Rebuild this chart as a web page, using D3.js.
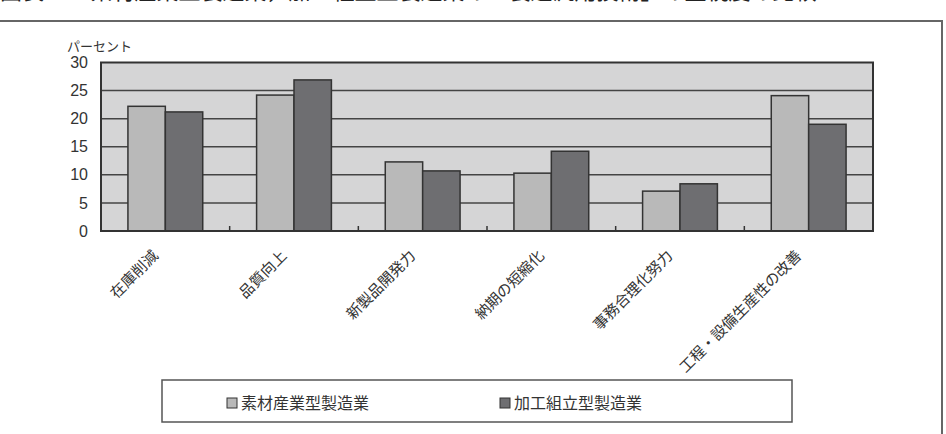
<!DOCTYPE html>
<html lang="ja">
<head>
  <meta charset="UTF-8">
  <title>素材産業型製造業・加工組立型製造業の比較</title>
  <style>
    body { margin: 0; background: #fff; }
    svg { display: block; }
    .tick-label { font-family: "Liberation Sans", Arial, sans-serif; font-size: 16px; fill: #333; }
    .jp { font-family: "Noto Sans CJK JP", sans-serif; fill: #333; }
    .grid { stroke: #444; stroke-width: 1.5px; }
    .bar { stroke: #333; stroke-width: 1.5px; }
  </style>
</head>
<body>
  <script src="https://cdn.jsdelivr.net/npm/d3@7"></script>
  <script>
    const width = 946, height = 434;
    const margin = { top: 62.5, right: 73, bottom: 203, left: 101 };

    const title = '図表23　素材産業型製造業，加工組立型製造業の「製造汎用技術」の重視度の比較';
    const categories = ['在庫削減', '品質向上', '新製品開発力', '納期の短縮化', '事務合理化努力', '工程・設備生産性の改善'];
    const seriesNames = ['素材産業型製造業', '加工組立型製造業'];
    const sozai = [22.2, 24.2, 12.3, 10.3, 7.1, 24.1];
    const kakou = [21.2, 26.9, 10.7, 14.2, 8.4, 19.0];
    const yTicks = [0, 5, 10, 15, 20, 25, 30];
    const colors = ['#b9b9b9', '#6e6e71'];

    const values = [sozai, kakou];
    const data = categories.map((c, i) => ({ cat: c, vals: seriesNames.map((s, j) => ({ s: s, v: values[j][i] })) }));

    const svg = d3.select('body').append('svg').attr('width', width).attr('height', height);

    // 外枠とタイトル（上で切れている）
    svg.append('text').attr('class', 'jp')
      .attr('x', 0).attr('y', -1.5)
      .style('font-size', '22px').style('fill', '#222')
      .text(title);
    svg.append('rect')
      .attr('x', -2).attr('y', 21).attr('width', 944).attr('height', 430)
      .attr('fill', 'none').attr('stroke', '#666').attr('stroke-width', 2);

    const x = d3.scaleBand().domain(categories).range([margin.left, width - margin.right]);
    const x1 = d3.scaleBand().domain(seriesNames).range([0, x.bandwidth()]).paddingOuter(0.72);
    const y = d3.scaleLinear().domain([0, 30]).range([height - margin.bottom, margin.top]);

    // プロット領域
    svg.append('rect')
      .attr('x', x.range()[0]).attr('y', y(30))
      .attr('width', x.range()[1] - x.range()[0]).attr('height', y(0) - y(30))
      .attr('fill', '#d5d5d6');

    svg.selectAll('line.grid').data(yTicks.filter(d => d > 0 && d < 30))
      .enter().append('line')
      .attr('class', 'grid')
      .attr('x1', x.range()[0]).attr('x2', x.range()[1])
      .attr('y1', d => y(d)).attr('y2', d => y(d));

    const groups = svg.selectAll('g.cat').data(data).enter().append('g')
      .attr('class', 'cat')
      .attr('transform', d => `translate(${x(d.cat)},0)`);
    groups.selectAll('rect').data(d => d.vals).enter().append('rect')
      .attr('class', 'bar')
      .attr('x', d => x1(d.s)).attr('width', x1.bandwidth())
      .attr('y', d => y(d.v)).attr('height', d => y(0) - y(d.v))
      .attr('fill', (d, i) => colors[i]);

    // 枠線
    svg.append('rect')
      .attr('x', x.range()[0]).attr('y', y(30))
      .attr('width', x.range()[1] - x.range()[0]).attr('height', y(0) - y(30))
      .attr('fill', 'none').attr('stroke', '#333').attr('stroke-width', 2);

    // 区切りの目盛り
    svg.selectAll('line.sep').data(categories.slice(1))
      .enter().append('line')
      .attr('stroke', '#333').attr('stroke-width', 1.5)
      .attr('x1', d => x(d)).attr('x2', d => x(d))
      .attr('y1', y(0)).attr('y2', y(0) - 5);

    // y軸ラベル
    const yAxis = svg.append('g')
      .attr('transform', `translate(${margin.left - 13},0)`)
      .call(d3.axisLeft(y).tickValues(yTicks).tickSize(0).tickPadding(0));
    yAxis.select('.domain').remove();
    yAxis.selectAll('text').attr('class', 'tick-label').attr('fill', null).attr('font-size', null).attr('font-family', null);

    svg.append('text').attr('class', 'jp')
      .attr('x', 67).attr('y', 51)
      .style('font-size', '13px')
      .text('パーセント');

    // カテゴリラベル
    svg.selectAll('text.cat').data(categories).enter().append('text')
      .attr('class', 'jp')
      .style('font-size', '15px')
      .attr('text-anchor', 'end')
      .attr('dy', '0.35em')
      .attr('transform', d => `translate(${x(d) + x.bandwidth() / 2 - 10},253) rotate(-45)`)
      .text(d => d);

    // 凡例
    const legend = svg.append('g');
    legend.append('rect')
      .attr('x', 162).attr('y', 380).attr('width', 630).attr('height', 42)
      .attr('fill', '#fff').attr('stroke', '#555').attr('stroke-width', 1.5);
    const legendX = [227, 500];
    const items = legend.selectAll('g.item').data(seriesNames).enter().append('g')
      .attr('transform', (d, i) => `translate(${legendX[i]},398)`);
    items.append('rect')
      .attr('width', 10).attr('height', 10)
      .attr('fill', (d, i) => colors[i]).attr('stroke', '#333').attr('stroke-width', 1);
    items.append('text').attr('class', 'jp')
      .attr('x', 14).attr('y', 5).attr('dy', '0.35em')
      .style('font-size', '16px')
      .text(d => d);
  </script>
</body>
</html>
